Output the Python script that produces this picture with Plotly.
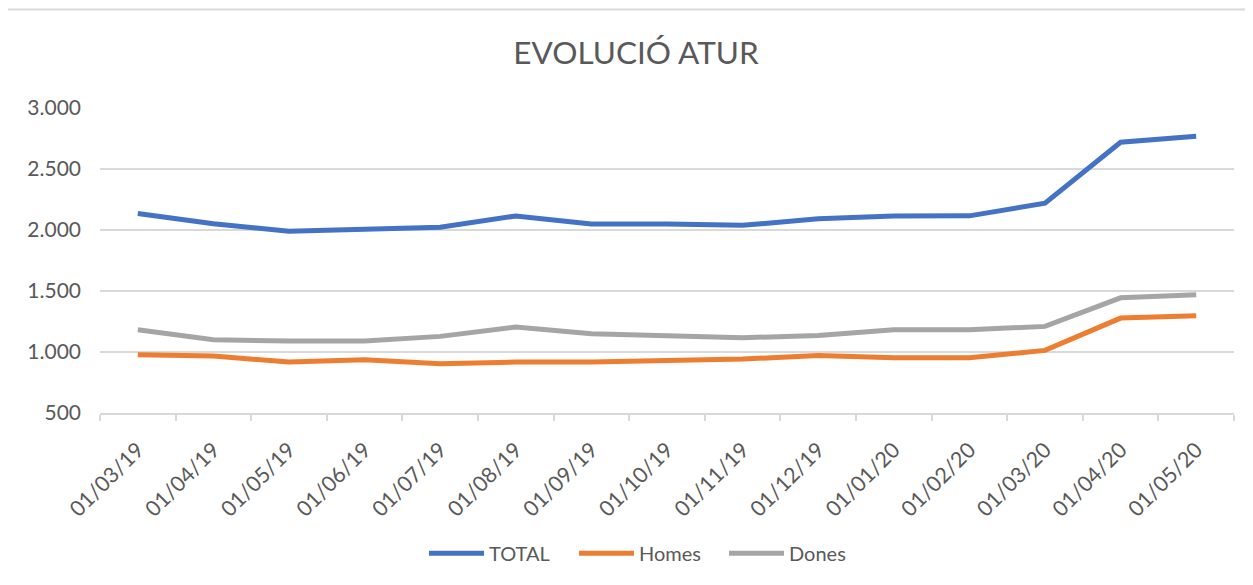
import plotly.graph_objects as go

months = ["01/03/19", "01/04/19", "01/05/19", "01/06/19", "01/07/19", "01/08/19",
          "01/09/19", "01/10/19", "01/11/19", "01/12/19", "01/01/20", "01/02/20",
          "01/03/20", "01/04/20", "01/05/20"]
total = [2135, 2052, 1990, 2009, 2023, 2115, 2050, 2050, 2038, 2092, 2115, 2116, 2220, 2719, 2768]
homes = [978, 967, 918, 937, 904, 918, 918, 926, 942, 972, 953, 953, 1013, 1278, 1297]
dones = [1182, 1100, 1090, 1090, 1128, 1204, 1150, 1130, 1117, 1136, 1182, 1182, 1210, 1444, 1469]

series = [("TOTAL", total, "#4472C4"), ("Homes", homes, "#ED7D31"), ("Dones", dones, "#A5A5A5")]

# page body adds an 8px offset; work in reference pixel coords and subtract it
OFF = 8
W, H = 1253, 585
L = 100 - OFF
T = 107.5 - OFF
R = W - (1234 - OFF)
B = H - (412.7 - OFF)
pw, ph = W - L - R, H - T - B

fig = go.Figure()
for name, vals, col in series:
    fig.add_trace(go.Scatter(x=months, y=vals, name=name, mode="lines",
                             line=dict(color=col, width=5)))

font = "Lato, 'Open Sans', sans-serif"
grey = "#595959"
gridc = "#D9D9D9"

def px2paper_x(px):
    return (px - OFF - L) / pw

def px2paper_y(py):
    return (H - B - (py - OFF)) / ph

fig.update_layout(
    width=W, height=H,
    margin=dict(l=L, r=R, t=T, b=B),
    paper_bgcolor="white", plot_bgcolor="white",
    separators=",.",
    font=dict(family=font, color=grey, size=20),
    title=dict(text="EVOLUCIÓ ATUR", x=(636 - OFF) / W, xanchor="center", xref="container",
               y=1 - (53 - OFF) / H, yref="container", yanchor="middle",
               font=dict(family=font, size=31.5, color=grey)),
    xaxis=dict(type="category", range=[-0.5, 14.5], tickangle=-45,
               tickson="boundaries", ticks="outside", ticklen=6, tickcolor=gridc, tickwidth=1.5,
               showline=True, linecolor=gridc, linewidth=1.5, showgrid=False,
               tickfont=dict(family=font, size=21.5, color=grey), ticklabelstandoff=14),
    yaxis=dict(range=[500, 3000], dtick=500, tick0=500, tickformat=",d",
               showgrid=True, gridcolor=gridc, gridwidth=1.5, zeroline=False,
               showline=False, ticks="", ticklabelstandoff=18,
               tickfont=dict(family=font, size=21, color=grey)),
    legend=dict(orientation="h", x=px2paper_x(649), xanchor="center",
                y=px2paper_y(553), yanchor="middle",
                font=dict(family=font, size=20, color=grey), itemwidth=55,
                entrywidth=80, entrywidthmode="pixels",
                tracegroupgap=0),
    showlegend=True,
    shapes=[
        dict(type="line", xref="paper", yref="paper",
             x0=px2paper_x(7), x1=px2paper_x(1270), y0=px2paper_y(9), y1=px2paper_y(9),
             line=dict(color=gridc, width=2)),
        dict(type="line", xref="paper", yref="paper",
             x0=px2paper_x(7), x1=px2paper_x(7), y0=px2paper_y(9), y1=px2paper_y(620),
             line=dict(color=gridc, width=2)),
    ],
)

fig.write_html("out.html")
